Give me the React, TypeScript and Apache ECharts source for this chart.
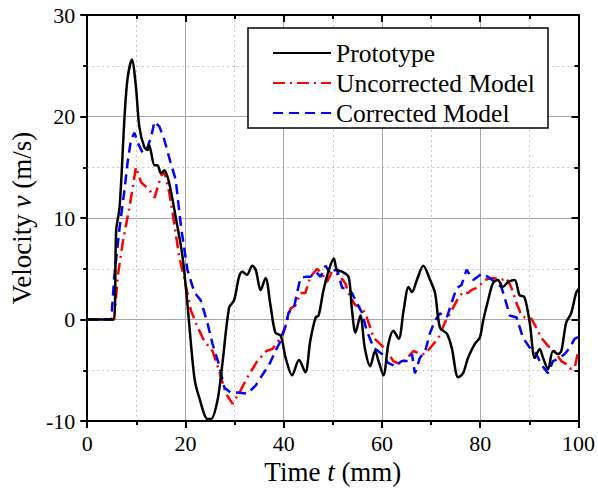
import React, { useEffect, useRef } from "react";
import * as echarts from "echarts";

const protoT = [0, 5.3, 5.9, 6.6, 7.6, 8.2, 9.1, 9.9, 10.6, 11.6, 12.3, 12.6, 13.7, 14.3, 15, 15.7, 16.7, 18, 19.4, 20.4, 21.8, 22.8, 24.5, 25.2, 26.5, 27.5, 28.9, 29.9, 30.9, 31.6, 32.5, 33.6, 34.3, 35.3, 36.3, 37.3, 38.3, 39.4, 40.4, 41.7, 43.1, 44.4, 45.4, 46.5, 47.1, 48.1, 49.2, 50.2, 50.8, 51.9, 53.2, 53.9, 54.6, 55.6, 56.5, 57.6, 58.6, 59.3, 60.3, 61.3, 62.3, 63.4, 64.4, 65.4, 66.1, 67.1, 68.4, 69.8, 70.8, 71.8, 73.2, 74.2, 75.5, 76.5, 77.5, 78.9, 79.9, 80.6, 81.6, 82.6, 83.6, 84.6, 85.7, 87, 88, 89, 90.1, 91.1, 92.1, 92.8, 93.8, 94.8, 95.8, 96.5, 97.5, 98.5, 99.5, 100];
const protoV = [0, 0, 8.8, 11.1, 20, 23.7, 25.6, 23, 19, 17, 16.7, 17.2, 15.2, 15.2, 14.4, 14.7, 13.4, 10.1, 6.2, 1.5, -5.7, -7.7, -9.8, -9.8, -8, -4.4, 1.2, 1.9, 4.2, 4.7, 4.4, 5.3, 4.9, 2.9, 4.1, 1.4, -1.3, -1.6, -3.8, -5.5, -4, -5.2, -2.1, 0.2, 0.4, 2.9, 4.9, 6, 4.9, 4.7, 4.2, 0.9, -1.3, 0.4, -2.8, -4.6, -3.1, -4.1, -5.5, -2.4, -1.1, -1.9, 0.9, 3.2, 2.7, 3.9, 5.3, 3.9, 2.6, -0.8, -1.4, -2.8, -5.7, -5.3, -3.8, -2.4, -1.8, -0.1, 1.9, 3.6, 3.9, 3.2, 3.7, 3.9, 2.4, 2.2, -0.4, -3.8, -2.9, -3.8, -4.9, -3.1, -3.4, -3.1, -0.3, 0.6, 2.6, 3];

const uncorrT = [0, 5.5, 6.2, 7.2, 8.6, 9.3, 9.9, 11, 12.6, 13.7, 15, 15.7, 16.7, 17.7, 18.7, 19.7, 21.1, 22.5, 23.8, 25.5, 26.8, 28.2, 29.6, 31.2, 32.6, 34.6, 36.5, 37.7, 39.4, 40.4, 41.4, 42.4, 43.4, 44.4, 45.4, 46.8, 47.8, 48.8, 49.8, 51.2, 52.5, 53.5, 54.6, 55.9, 56.9, 58.3, 59.6, 61, 62.3, 63.7, 65.1, 66.4, 67.7, 68.8, 69.8, 71.5, 72.8, 74.2, 75.5, 76.5, 77.5, 78.2, 79.6, 80.9, 82.6, 84.3, 85.3, 86.3, 87.4, 88.4, 89.4, 90.4, 91.4, 92.4, 93.8, 95.1, 96.5, 97.5, 98.5, 99.3, 100];
const uncorrV = [0, 0, 4.2, 7.5, 11.1, 13.1, 15, 13.5, 12.8, 12, 14.1, 14.6, 12.5, 9.5, 6.2, 4.2, 0.9, -0.8, -2.1, -3.1, -5, -7.3, -8.3, -7, -5.7, -4.1, -3.1, -2.9, -1.8, -0.6, 1.1, 1.4, 2.6, 2.6, 4.2, 5, 4.5, 3.7, 4.7, 4.4, 3.6, 2.2, 1.4, 1.2, 0.2, -1.8, -2.4, -3.1, -4.1, -4.4, -3.8, -3.1, -3.4, -3.4, -2.8, -1.8, -0.3, 0.9, 2.1, 2.7, 2.6, 2.9, 3.2, 3.9, 4.1, 3.9, 4.1, 3.2, 1.6, 0.4, 0.1, 0.1, -0.8, -1.8, -2.6, -3.1, -4.1, -4.4, -4.9, -4.6, -3];

const corrT = [0, 4.9, 5.5, 6.6, 7.6, 8.2, 8.9, 9.6, 10.3, 11.3, 12.3, 13, 13.7, 14.7, 15.7, 17, 18, 19.1, 20.4, 21.8, 23.1, 24.5, 25.5, 26.8, 27.9, 29.2, 30.6, 32.6, 34.3, 35.6, 37, 38.3, 39.4, 40.4, 41, 42.1, 42.7, 43.4, 44.4, 45.4, 46.5, 47.5, 48.5, 49.5, 50.8, 51.9, 52.9, 53.9, 54.9, 55.9, 56.9, 58.3, 60, 61.3, 62.7, 64, 65.4, 66.1, 66.7, 67.7, 68.8, 69.8, 70.8, 71.8, 73.2, 74.2, 75.2, 76.2, 77.2, 78.6, 80.3, 81.6, 83.3, 84.3, 85, 86, 87.4, 88.7, 90.1, 91.4, 92.4, 93.8, 94.8, 95.8, 97.2, 98.2, 99.2, 100];
const corrV = [0, 0, 4.2, 9.1, 12.8, 15.4, 17.7, 18.4, 17.4, 16.4, 17, 18, 19.5, 19, 17.7, 15.4, 13.8, 9.1, 4.9, 2.7, 1.9, -0.4, -2.4, -4.4, -6.7, -7.2, -7.2, -7.3, -6.5, -5.5, -4.5, -3.1, -2.1, -0.6, 0.7, 1.2, 2.6, 4.1, 4.2, 4.2, 4.7, 4.2, 5.3, 4.5, 5, 3.1, 3.1, 2.6, 1.6, 0.7, -1.1, -2.8, -3.4, -4.3, -4.6, -4.1, -4.1, -3.4, -5.3, -3.8, -3.1, -1.3, -0.1, 0.6, 0.2, 1.7, 3.1, 3.4, 4.9, 3.9, 4.5, 4.2, 3.6, 3.2, 2.1, 0.4, 0.2, -1.8, -2.8, -3.4, -4.4, -5.3, -4.1, -3.9, -3.4, -2.8, -1.9, -1.7];

const seriesNames = ["Prototype", "Uncorrected Model", "Corrected Model"];
const xTicks = [0, 100, 20];
const yTicks = [-10, 30, 10];

const FONT = "'Liberation Serif', 'Times New Roman', serif";

function pairs(t: number[], v: number[]) {
  return t.map((x, i) => [x, v[i]]);
}

export default function App() {
  const ref = useRef<HTMLDivElement>(null);
  useEffect(() => {
    if (!ref.current) return;
    const chart = echarts.init(ref.current, undefined, { renderer: "svg" });
    const axisLine = { show: true, onZero: false, lineStyle: { color: "#000", width: 2 } };
    const majorSplit = { show: true, lineStyle: { color: "#a8a8a8", width: 1, type: "solid" } };
    const minorSplit = { show: true, lineStyle: { color: "#c8c8c8", width: 1, type: [2, 3] } };
    const label = { color: "#000", fontFamily: FONT, fontSize: 22 };
    const nameStyle = {
      color: "#000",
      fontFamily: FONT,
      fontSize: 27,
      rich: { i: { fontFamily: FONT, fontSize: 27, fontStyle: "italic", color: "#000" } },
    };
    const tick = (inside: boolean) => ({ show: true, inside, length: 7, lineStyle: { color: "#000", width: 2 } });
    const minorTick = { show: true, splitNumber: 2, length: 4, lineStyle: { color: "#000", width: 2 } };
    const option: any = {
      animation: false,
      backgroundColor: "#fff",
      textStyle: { fontFamily: FONT },
      grid: { left: 85, right: 19, top: 15, bottom: 72, containLabel: false },
      xAxis: [
        {
          type: "value",
          position: "bottom",
          min: xTicks[0],
          max: xTicks[1],
          interval: xTicks[2],
          name: "Time {i|t} (mm)",
          nameLocation: "middle",
          nameGap: 37,
          nameTextStyle: nameStyle,
          axisLine,
          axisTick: tick(false),
          minorTick,
          axisLabel: { ...label, margin: 11 },
          splitLine: majorSplit,
          minorSplitLine: minorSplit,
        },
        {
          type: "value",
          position: "top",
          min: xTicks[0],
          max: xTicks[1],
          interval: xTicks[2],
          axisLine,
          axisTick: tick(true),
          minorTick,
          axisLabel: { show: false },
          splitLine: { show: false },
        },
      ],
      yAxis: [
        {
          type: "value",
          position: "left",
          min: yTicks[0],
          max: yTicks[1],
          interval: yTicks[2],
          name: "Velocity {i|v} (m/s)",
          nameLocation: "middle",
          nameGap: 36,
          nameTextStyle: nameStyle,
          axisLine,
          axisTick: tick(false),
          minorTick,
          axisLabel: { ...label, margin: 12 },
          splitLine: majorSplit,
          minorSplitLine: minorSplit,
        },
        {
          type: "value",
          position: "right",
          min: yTicks[0],
          max: yTicks[1],
          interval: yTicks[2],
          axisLine,
          axisTick: tick(true),
          minorTick,
          axisLabel: { show: false },
          splitLine: { show: false },
        },
      ],
      legend: {
        orient: "vertical",
        left: 272,
        top: 40,
        padding: 0,
        itemWidth: 58,
        itemHeight: 14,
        itemGap: 4,
        itemStyle: { opacity: 0 },
        textStyle: { color: "#000", fontFamily: FONT, fontSize: 25.5 },
        data: seriesNames,
        z: 10,
      },
      graphic: [
        {
          type: "rect",
          z: 5,
          shape: { x: 248, y: 28, width: 300, height: 100 },
          style: { fill: "#fff", stroke: "#000", lineWidth: 1.5 },
        },
      ],
      series: [
        {
          name: seriesNames[0],
          type: "line",
          data: pairs(protoT, protoV),
          symbol: "none",
          smooth: 0.3,
          lineStyle: { color: "#000", width: 2.5, type: "solid" },
          itemStyle: { color: "#000" },
          z: 4,
        },
        {
          name: seriesNames[1],
          type: "line",
          data: pairs(uncorrT, uncorrV),
          symbol: "none",
          lineStyle: { color: "#ff0000", width: 2.5, type: [12, 5, 2, 5] },
          itemStyle: { color: "#ff0000" },
          z: 3,
        },
        {
          name: seriesNames[2],
          type: "line",
          data: pairs(corrT, corrV),
          symbol: "none",
          lineStyle: { color: "#0000ff", width: 2.5, type: [10, 6] },
          itemStyle: { color: "#0000ff" },
          z: 3,
        },
      ],
    };
    chart.setOption(option);
    return () => chart.dispose();
  }, []);
  return (
    <div
      ref={ref}
      style={{ position: "absolute", left: 0, top: 0, width: 598, height: 493, background: "#fff" }}
    />
  );
}
